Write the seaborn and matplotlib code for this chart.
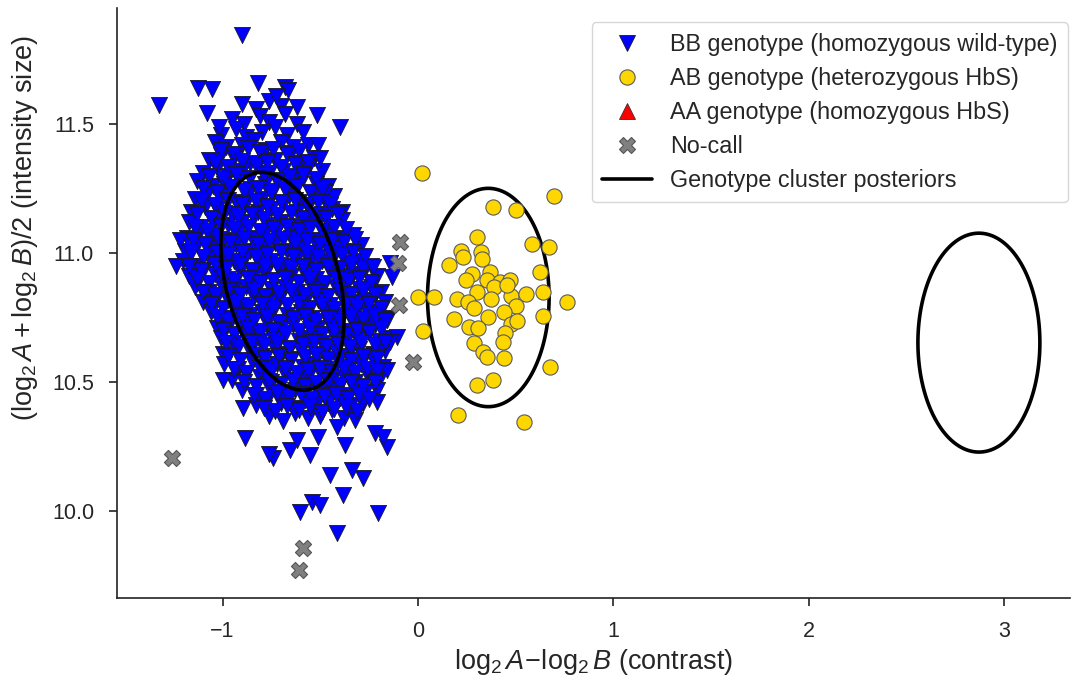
import numpy as np
import pandas as pd
import matplotlib
matplotlib.use("Agg")
import matplotlib.pyplot as plt
import seaborn as sns
from matplotlib.lines import Line2D

# ---------------- data ----------------
# BB genotype (homozygous wild-type) -- contrast (x) and intensity size (y)
bb_x = [
    -0.90, -0.83, -0.76, -0.70,
    -0.95, -0.89, -0.81, -0.76, -0.68, -0.62,
    -1.01, -0.93, -0.88, -0.80, -0.73, -0.67, -0.59,
    -1.04, -0.98, -0.90, -0.84, -0.78, -0.70, -0.64, -0.56,
    -1.07, -1.01, -0.94, -0.86, -0.80, -0.73, -0.65, -0.60, -0.53,
    -1.10, -1.03, -0.97, -0.90, -0.82, -0.76, -0.69, -0.62, -0.56, -0.49,
    -1.13, -1.05, -0.99, -0.92, -0.86, -0.78, -0.72, -0.64, -0.59, -0.52, -0.46,
    -1.14, -1.08, -1.01, -0.93, -0.87, -0.80, -0.74, -0.66, -0.61, -0.54, -0.48, -0.43,
    -1.16, -1.09, -1.03, -0.95, -0.89, -0.82, -0.75, -0.69, -0.62, -0.56, -0.49, -0.44, -0.39,
    -1.17, -1.11, -1.04, -0.97, -0.90, -0.84, -0.77, -0.70, -0.64, -0.57, -0.51, -0.45, -0.39,
    -1.18, -1.12, -1.05, -0.99, -0.92, -0.85, -0.79, -0.72, -0.65, -0.59, -0.53, -0.46, -0.40, -0.33,
    -1.19, -1.13, -1.06, -1.00, -0.93, -0.86, -0.80, -0.73, -0.67, -0.60, -0.54, -0.47, -0.41, -0.35, -0.29,
    -1.20, -1.14, -1.07, -1.01, -0.94, -0.88, -0.81, -0.75, -0.68, -0.62, -0.55, -0.49, -0.43, -0.36, -0.30, -0.24,
    -1.17, -1.10, -1.04, -0.97, -0.91, -0.84, -0.78, -0.71, -0.65, -0.58, -0.52, -0.45, -0.39, -0.33, -0.27, -0.21,
    -1.14, -1.07, -1.01, -0.94, -0.88, -0.81, -0.75, -0.68, -0.62, -0.55, -0.49, -0.42, -0.36, -0.30, -0.24, -0.19,
    -1.10, -1.03, -0.97, -0.90, -0.84, -0.77, -0.71, -0.64, -0.58, -0.51, -0.45, -0.39, -0.33, -0.27, -0.22, -0.17,
    -1.06, -0.99, -0.93, -0.86, -0.80, -0.73, -0.67, -0.60, -0.54, -0.48, -0.42, -0.36, -0.30, -0.25, -0.20, -0.16,
    -1.03, -0.96, -0.90, -0.83, -0.77, -0.70, -0.64, -0.57, -0.51, -0.45, -0.39, -0.33, -0.27, -0.22, -0.16,
    -1.01, -0.94, -0.87, -0.81, -0.74, -0.68, -0.61, -0.55, -0.49, -0.43, -0.37, -0.31, -0.25, -0.20, -0.15,
    -1.00, -0.93, -0.86, -0.80, -0.73, -0.67, -0.60, -0.54, -0.48, -0.42, -0.36, -0.30, -0.23, -0.17,
    -0.99, -0.92, -0.85, -0.78, -0.72, -0.65, -0.59, -0.53, -0.47, -0.41, -0.35, -0.29, -0.23, -0.18,
    -0.95, -0.88, -0.81, -0.75, -0.68, -0.62, -0.56, -0.50, -0.44, -0.38, -0.32, -0.26, -0.20,
    -0.90, -0.83, -0.76, -0.70, -0.63, -0.57, -0.51, -0.45, -0.39, -0.33, -0.27, -0.21,
    -0.83, -0.77, -0.70, -0.64, -0.58, -0.52, -0.46, -0.40, -0.34, -0.28,
    -0.76, -0.69, -0.63, -0.56, -0.50, -0.44, -0.38, -0.32,
    # upper outliers
    -0.90, -1.325, -1.124, -1.055, -0.817, -1.081, -1.018, -0.68, -0.663, -0.518,
    -0.399, -0.726, -0.62, -0.51, -0.501, -0.476,
    # side points
    -1.24, -1.22, -0.143, -0.133, -0.107, -0.143, -0.159, -0.21,
    # lower tail
    -0.996, -0.894, -0.885, -0.740, -0.76, -0.655, -0.620, -0.552, -0.510, -0.416,
    -0.373, -0.322, -0.220, -0.160, -0.179, -0.450, -0.339, -0.280, -0.382, -0.544,
    -0.501, -0.604, -0.203, -0.416,
]
bb_y = [
    11.58, 11.56, 11.59, 11.57,
    11.52, 11.50, 11.53, 11.51, 11.54, 11.50,
    11.46, 11.48, 11.45, 11.47, 11.49, 11.46, 11.47,
    11.43, 11.41, 11.42, 11.44, 11.40, 11.43, 11.41, 11.42,
    11.36, 11.38, 11.37, 11.35, 11.38, 11.36, 11.39, 11.35, 11.37,
    11.31, 11.33, 11.30, 11.32, 11.34, 11.31, 11.32, 11.30, 11.33, 11.32,
    11.28, 11.26, 11.27, 11.29, 11.25, 11.27, 11.28, 11.26, 11.29, 11.27, 11.26,
    11.21, 11.23, 11.22, 11.20, 11.23, 11.21, 11.24, 11.22, 11.20, 11.23, 11.21, 11.22,
    11.16, 11.18, 11.17, 11.15, 11.18, 11.16, 11.17, 11.19, 11.16, 11.18, 11.15, 11.17, 11.16,
    11.12, 11.10, 11.13, 11.11, 11.12, 11.14, 11.11, 11.12, 11.10, 11.13, 11.12, 11.10, 11.13,
    11.06, 11.08, 11.07, 11.05, 11.08, 11.06, 11.07, 11.09, 11.06, 11.07, 11.05, 11.08, 11.06, 11.07,
    11.01, 11.03, 11.02, 11.00, 11.03, 11.01, 11.02, 11.04, 11.01, 11.02, 11.00, 11.03, 11.02, 11.01, 11.03,
    10.97, 10.95, 10.98, 10.96, 10.97, 10.99, 10.96, 10.97, 10.95, 10.98, 10.96, 10.97, 10.99, 10.96, 10.97, 10.95,
    10.91, 10.93, 10.92, 10.90, 10.93, 10.91, 10.92, 10.94, 10.91, 10.92, 10.90, 10.93, 10.91, 10.92, 10.94, 10.91,
    10.87, 10.85, 10.88, 10.86, 10.87, 10.89, 10.86, 10.87, 10.85, 10.88, 10.86, 10.87, 10.89, 10.86, 10.87, 10.85,
    10.81, 10.83, 10.82, 10.80, 10.83, 10.81, 10.82, 10.84, 10.81, 10.82, 10.80, 10.83, 10.81, 10.82, 10.84, 10.81,
    10.77, 10.75, 10.78, 10.76, 10.77, 10.79, 10.76, 10.77, 10.75, 10.78, 10.76, 10.77, 10.79, 10.76, 10.77, 10.75,
    10.71, 10.73, 10.72, 10.70, 10.73, 10.71, 10.72, 10.74, 10.71, 10.72, 10.70, 10.73, 10.71, 10.72, 10.74,
    10.67, 10.65, 10.68, 10.66, 10.67, 10.69, 10.66, 10.67, 10.65, 10.68, 10.66, 10.67, 10.69, 10.66, 10.67,
    10.61, 10.63, 10.62, 10.60, 10.63, 10.61, 10.62, 10.64, 10.61, 10.62, 10.60, 10.63, 10.61, 10.62,
    10.57, 10.55, 10.58, 10.56, 10.57, 10.59, 10.56, 10.57, 10.55, 10.58, 10.56, 10.57, 10.59, 10.56,
    10.51, 10.53, 10.52, 10.50, 10.53, 10.51, 10.52, 10.54, 10.51, 10.52, 10.50, 10.53, 10.51,
    10.47, 10.45, 10.48, 10.46, 10.47, 10.49, 10.46, 10.47, 10.45, 10.48, 10.46, 10.47,
    10.41, 10.43, 10.42, 10.40, 10.43, 10.41, 10.42, 10.44, 10.41, 10.42,
    10.37, 10.35, 10.38, 10.36, 10.37, 10.39, 10.36, 10.37,
    # upper outliers
    11.845, 11.574, 11.641, 11.638, 11.658, 11.545, 11.49, 11.645, 11.632, 11.535,
    11.49, 11.61, 11.567, 11.419, 11.368, 11.238,
    # side points
    10.95, 11.05, 10.961, 10.907, 10.674, 10.655, 10.547, 10.422,
    # lower tail
    10.508, 10.398, 10.282, 10.204, 10.22, 10.236, 10.275, 10.217, 10.288, 10.327,
    10.256, 10.353, 10.301, 10.249, 10.287, 10.140, 10.159, 10.127, 10.062, 10.036,
    10.023, 9.997, 9.991, 9.914,
]

# BB genotype, further samples in the dense core of the cluster
bb_core_x = [
    -1.01, -0.94, -0.87, -0.81, -0.74, -0.67, -0.61,
    -1.04, -0.97, -0.90, -0.83, -0.77, -0.70, -0.63, -0.56,
    -1.07, -1.00, -0.93, -0.86, -0.79, -0.72, -0.66, -0.59, -0.52,
    -1.10, -1.03, -0.96, -0.89, -0.82, -0.75, -0.68, -0.62, -0.55, -0.49,
    -1.11, -1.04, -0.97, -0.90, -0.83, -0.77, -0.70, -0.63, -0.57, -0.51, -0.45,
    -1.13, -1.06, -0.99, -0.92, -0.85, -0.79, -0.72, -0.65, -0.59, -0.53, -0.47, -0.41,
    -1.14, -1.08, -1.01, -0.94, -0.87, -0.81, -0.74, -0.67, -0.61, -0.55, -0.49, -0.43, -0.37,
    -1.15, -1.09, -1.02, -0.96, -0.89, -0.82, -0.76, -0.69, -0.63, -0.57, -0.50, -0.44, -0.38, -0.32,
    -1.16, -1.10, -1.03, -0.97, -0.90, -0.83, -0.77, -0.70, -0.64, -0.57, -0.51, -0.45, -0.39, -0.33, -0.27,
    -1.17, -1.11, -1.04, -0.98, -0.91, -0.85, -0.78, -0.72, -0.65, -0.59, -0.52, -0.46, -0.40, -0.34, -0.28, -0.23,
    -1.13, -1.07, -1.00, -0.94, -0.87, -0.81, -0.74, -0.68, -0.61, -0.55, -0.48, -0.42, -0.36, -0.30, -0.24,
    -1.10, -1.04, -0.97, -0.91, -0.84, -0.78, -0.71, -0.65, -0.58, -0.52, -0.46, -0.40, -0.34, -0.28, -0.22,
    -1.06, -1.00, -0.93, -0.87, -0.80, -0.74, -0.67, -0.61, -0.55, -0.49, -0.43, -0.37, -0.31, -0.25, -0.19,
    -1.03, -0.97, -0.90, -0.84, -0.77, -0.71, -0.64, -0.58, -0.52, -0.46, -0.40, -0.34, -0.28, -0.22, -0.17,
    -1.00, -0.94, -0.87, -0.81, -0.74, -0.68, -0.61, -0.55, -0.49, -0.43, -0.37, -0.31, -0.25, -0.19,
    -0.98, -0.92, -0.85, -0.79, -0.72, -0.66, -0.59, -0.53, -0.47, -0.41, -0.35, -0.29, -0.22, -0.17,
    -0.97, -0.91, -0.84, -0.78, -0.71, -0.65, -0.58, -0.52, -0.46, -0.40, -0.34, -0.28, -0.21,
    -0.94, -0.88, -0.81, -0.75, -0.68, -0.62, -0.56, -0.50, -0.44, -0.38, -0.32, -0.26, -0.21,
    -0.89, -0.83, -0.76, -0.70, -0.64, -0.58, -0.52, -0.46, -0.40, -0.34, -0.28, -0.22,
    -0.84, -0.78, -0.72, -0.66, -0.60, -0.54, -0.48, -0.42, -0.36, -0.30, -0.25,
    -0.79, -0.73, -0.67, -0.61, -0.55, -0.49, -0.43, -0.37, -0.31,
]
bb_core_y = [
    11.401, 11.386, 11.406, 11.392, 11.403, 11.384, 11.397,
    11.351, 11.336, 11.356, 11.342, 11.353, 11.334, 11.347, 11.355,
    11.301, 11.286, 11.306, 11.292, 11.303, 11.284, 11.297, 11.305, 11.288,
    11.251, 11.236, 11.256, 11.242, 11.253, 11.234, 11.247, 11.255, 11.238, 11.249,
    11.201, 11.186, 11.206, 11.192, 11.203, 11.184, 11.197, 11.205, 11.188, 11.199, 11.185,
    11.151, 11.136, 11.156, 11.142, 11.153, 11.134, 11.147, 11.155, 11.138, 11.149, 11.135, 11.152,
    11.101, 11.086, 11.106, 11.092, 11.103, 11.084, 11.097, 11.105, 11.088, 11.099, 11.085, 11.102, 11.093,
    11.051, 11.036, 11.056, 11.042, 11.053, 11.034, 11.047, 11.055, 11.038, 11.049, 11.035, 11.052, 11.043, 11.054,
    11.001, 10.986, 11.006, 10.992, 11.003, 10.984, 10.997, 11.005, 10.988, 10.999, 10.985, 11.002, 10.993, 11.004, 10.989,
    10.951, 10.936, 10.956, 10.942, 10.953, 10.934, 10.947, 10.955, 10.938, 10.949, 10.935, 10.952, 10.943, 10.954, 10.939, 10.948,
    10.901, 10.886, 10.906, 10.892, 10.903, 10.884, 10.897, 10.905, 10.888, 10.899, 10.885, 10.902, 10.893, 10.904, 10.889,
    10.851, 10.836, 10.856, 10.842, 10.853, 10.834, 10.847, 10.855, 10.838, 10.849, 10.835, 10.852, 10.843, 10.854, 10.839,
    10.801, 10.786, 10.806, 10.792, 10.803, 10.784, 10.797, 10.805, 10.788, 10.799, 10.785, 10.802, 10.793, 10.804, 10.789,
    10.751, 10.736, 10.756, 10.742, 10.753, 10.734, 10.747, 10.755, 10.738, 10.749, 10.735, 10.752, 10.743, 10.754, 10.739,
    10.701, 10.686, 10.706, 10.692, 10.703, 10.684, 10.697, 10.705, 10.688, 10.699, 10.685, 10.702, 10.693, 10.704,
    10.651, 10.636, 10.656, 10.642, 10.653, 10.634, 10.647, 10.655, 10.638, 10.649, 10.635, 10.652, 10.643, 10.654,
    10.601, 10.586, 10.606, 10.592, 10.603, 10.584, 10.597, 10.605, 10.588, 10.599, 10.585, 10.602, 10.593,
    10.551, 10.536, 10.556, 10.542, 10.553, 10.534, 10.547, 10.555, 10.538, 10.549, 10.535, 10.552, 10.543,
    10.501, 10.486, 10.506, 10.492, 10.503, 10.484, 10.497, 10.505, 10.488, 10.499, 10.485, 10.502,
    10.451, 10.436, 10.456, 10.442, 10.453, 10.434, 10.447, 10.455, 10.438, 10.449, 10.435,
    10.401, 10.386, 10.406, 10.392, 10.403, 10.384, 10.397, 10.405, 10.388,
]

# AB genotype (heterozygous HbS)
ab_x = [0.022, 0.385, 0.501, 0.696, 0.303, 0.582, 0.670, 0.220, 0.229, 0.321,
        0.326, 0.160, 0.275, 0.368, 0.624, 0.246, 0.351, 0.419, 0.389, 0.303,
        0.002, 0.083, 0.198, 0.372, 0.474, 0.551, 0.638, 0.764, 0.257, 0.286,
        0.501, 0.441, 0.638, 0.186, 0.360, 0.476, 0.505, 0.262, 0.308, 0.024,
        0.445, 0.286, 0.433, 0.331, 0.351, 0.440, 0.675, 0.385, 0.300, 0.206,
        0.542, 0.471, 0.454]
ab_y = [11.309, 11.179, 11.167, 11.222, 11.063, 11.035, 11.024, 11.008, 10.986, 11.005,
        10.979, 10.953, 10.921, 10.928, 10.925, 10.895, 10.895, 10.889, 10.869, 10.850,
        10.831, 10.831, 10.824, 10.824, 10.834, 10.841, 10.850, 10.811, 10.811, 10.788,
        10.795, 10.772, 10.757, 10.744, 10.751, 10.725, 10.738, 10.712, 10.708, 10.699,
        10.691, 10.650, 10.654, 10.617, 10.598, 10.592, 10.557, 10.510, 10.488, 10.372,
        10.346, 10.895, 10.876]

# AA genotype (homozygous HbS): no samples
aa_x = []
aa_y = []

# No-call
nc_x = [-0.092, -0.101, -0.096, -0.024, -1.26, -0.59, -0.607]
nc_y = [11.044, 10.96, 10.798, 10.579, 10.207, 9.855, 9.771]

# Genotype cluster posteriors (BB, AB, AA): centre, sd and correlation
ell_cx = [-0.693, 0.360, 2.870]
ell_cy = [10.891, 10.828, 10.653]
ell_sx = [0.315, 0.311, 0.312]
ell_sy = [0.4225, 0.4233, 0.4244]
ell_rho = [-0.334, 0.0, 0.0]

labels = ["BB genotype (homozygous wild-type)",
          "AB genotype (heterozygous HbS)",
          "AA genotype (homozygous HbS)",
          "No-call",
          "Genotype cluster posteriors"]

# ---------------- style ----------------
sns.set_style("ticks")
plt.rcParams["font.family"] = ["Liberation Sans", "DejaVu Sans"]
plt.rcParams["mathtext.fontset"] = "custom"
plt.rcParams["mathtext.rm"] = "Liberation Sans"
plt.rcParams["mathtext.it"] = "Liberation Sans:italic"
plt.rcParams["axes.unicode_minus"] = True

fig = plt.figure(figsize=(10.73, 6.81), dpi=100)
ax = fig.add_axes([0.109, 0.122, 0.888, 0.866])

bb = pd.DataFrame({"x": bb_x + bb_core_x, "y": bb_y + bb_core_y})
ab = pd.DataFrame({"x": ab_x, "y": ab_y})
nc = pd.DataFrame({"x": nc_x, "y": nc_y})

sns.scatterplot(data=bb, x="x", y="y", marker="v", s=135, color="#0000ff",
                edgecolor="#1a1a1a", linewidth=0.6, ax=ax, zorder=2, legend=False)

t = np.linspace(0, 2 * np.pi, 400)
for cx, cy, sx, sy, r in zip(ell_cx, ell_cy, ell_sx, ell_sy, ell_rho):
    cov = np.array([[sx * sx, r * sx * sy], [r * sx * sy, sy * sy]])
    L = np.linalg.cholesky(cov)
    pts = L @ np.vstack([np.cos(t), np.sin(t)])
    ax.fill(cx + pts[0], cy + pts[1], facecolor="none", edgecolor="black",
            lw=2.6, zorder=3)

sns.scatterplot(data=ab, x="x", y="y", marker="o", s=120, color="#ffd700",
                edgecolor="#5a5a5a", linewidth=0.8, ax=ax, zorder=4, legend=False)
sns.scatterplot(data=nc, x="x", y="y", marker="X", s=135, color="#808080",
                edgecolor="#555555", linewidth=0.8, ax=ax, zorder=5, legend=False)

ax.set_xlim(-1.54, 3.335)
ax.set_ylim(9.663, 11.95)
ax.set_xticks([-1, 0, 1, 2, 3])
ax.set_yticks([10.0, 10.5, 11.0, 11.5])
ax.set_yticklabels(["10.0", "10.5", "11.0", "11.5"])
sns.despine(ax=ax)
for sp in ["left", "bottom"]:
    ax.spines[sp].set_linewidth(1.2)
    ax.spines[sp].set_color("#222222")
ax.tick_params(axis="both", labelsize=15.5, length=5.5, width=1.2,
               color="#222222", pad=11)

ax.set_xlabel(r"$\log_2 A\!-\!\log_2 B$ (contrast)", fontsize=19.5, labelpad=4)
ax.set_ylabel(r"$(\log_2 A + \log_2 B)/2$ (intensity size)", fontsize=19.5)
ax.yaxis.set_label_coords(-0.081, 0.628)

handles = [
    Line2D([], [], ls="", marker="v", ms=11, mfc="#0000ff", mec="#1a1a1a", mew=0.6),
    Line2D([], [], ls="", marker="o", ms=11, mfc="#ffd700", mec="#5a5a5a", mew=0.8),
    Line2D([], [], ls="", marker="^", ms=11, mfc="#ff0000", mec="#333333", mew=0.6),
    Line2D([], [], ls="", marker="X", ms=11, mfc="#808080", mec="#555555", mew=0.8),
    Line2D([], [], color="black", lw=2.6),
]
leg = ax.legend(handles=handles, labels=labels, loc="upper right",
                bbox_to_anchor=(0.998, 0.976), borderaxespad=0, fontsize=16.8,
                frameon=True, handlelength=2.15, handletextpad=0.75,
                labelspacing=0.47, borderpad=0.45)
leg.get_frame().set_edgecolor("#cccccc")

fig.savefig("out.png", dpi=100)
